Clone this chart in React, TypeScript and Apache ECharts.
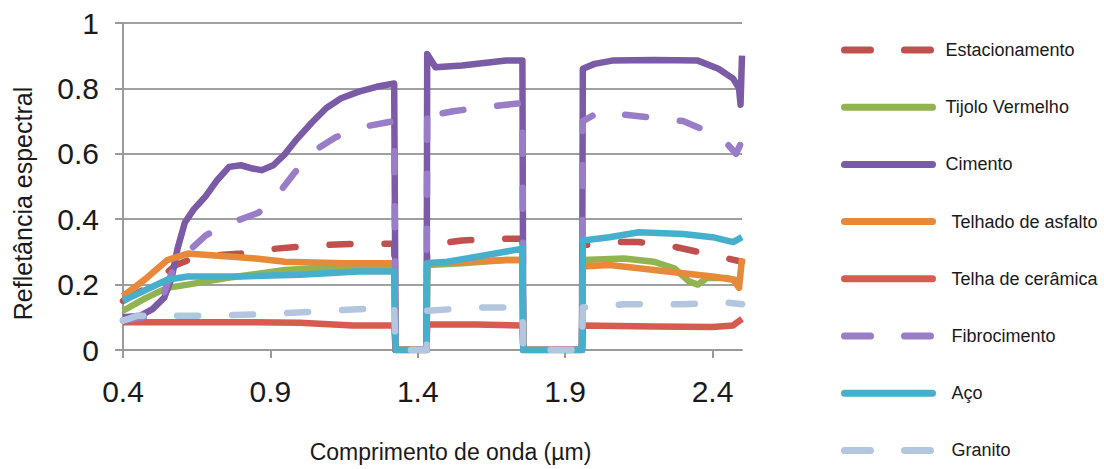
import React, { useEffect, useRef } from "react";
import * as echarts from "echarts";

const seriesNames = [
  "Estacionamento",
  "Tijolo Vermelho",
  "Cimento",
  "Telhado de asfalto",
  "Telha de cerâmica",
  "Fibrocimento",
  "Aço",
  "Granito",
];

const xTicks = [0.4, 0.9, 1.4, 1.9, 2.4];

const estacionamento = [
  [0.40, 0.15], [0.50, 0.20], [0.58, 0.26], [0.65, 0.285], [0.80, 0.295], [0.92, 0.31],
  [1.05, 0.32], [1.20, 0.325], [1.32, 0.325], [1.325, 0], [1.43, 0], [1.432, 0.32],
  [1.55, 0.335], [1.70, 0.34], [1.755, 0.34], [1.758, 0], [1.957, 0], [1.96, 0.32],
  [2.05, 0.33], [2.15, 0.33], [2.25, 0.32], [2.35, 0.30], [2.45, 0.28], [2.5, 0.27],
];

const tijolo = [
  [0.40, 0.12], [0.48, 0.16], [0.55, 0.19], [0.62, 0.20], [0.75, 0.22], [0.95, 0.245],
  [1.15, 0.255], [1.32, 0.255], [1.325, 0], [1.43, 0], [1.432, 0.26], [1.55, 0.265],
  [1.70, 0.275], [1.755, 0.275], [1.758, 0], [1.957, 0], [1.96, 0.275], [2.10, 0.28],
  [2.20, 0.27], [2.27, 0.25], [2.32, 0.21], [2.35, 0.20], [2.38, 0.22], [2.45, 0.22], [2.5, 0.21],
];

const cimento = [
  [0.40, 0.10], [0.46, 0.105], [0.50, 0.125], [0.54, 0.16], [0.565, 0.22], [0.585, 0.31],
  [0.61, 0.39], [0.64, 0.43], [0.68, 0.47], [0.72, 0.52], [0.76, 0.56], [0.80, 0.565],
  [0.84, 0.555], [0.87, 0.55], [0.91, 0.565], [0.95, 0.60], [0.99, 0.645], [1.04, 0.695],
  [1.09, 0.74], [1.14, 0.77], [1.20, 0.79], [1.26, 0.805], [1.32, 0.815], [1.325, 0],
  [1.43, 0], [1.432, 0.905], [1.46, 0.865], [1.55, 0.87], [1.70, 0.885], [1.755, 0.885],
  [1.758, 0], [1.957, 0], [1.96, 0.86], [2.0, 0.875], [2.06, 0.885], [2.2, 0.887],
  [2.35, 0.885], [2.42, 0.86], [2.47, 0.83], [2.49, 0.80], [2.495, 0.75], [2.5, 0.9],
];

const telhado = [
  [0.40, 0.165], [0.48, 0.22], [0.55, 0.275], [0.62, 0.295], [0.70, 0.29], [0.85, 0.28],
  [0.95, 0.27], [1.15, 0.265], [1.32, 0.265], [1.325, 0], [1.43, 0], [1.432, 0.265],
  [1.55, 0.27], [1.70, 0.275], [1.755, 0.275], [1.758, 0], [1.957, 0], [1.96, 0.255],
  [2.05, 0.26], [2.15, 0.25], [2.30, 0.235], [2.40, 0.225], [2.47, 0.215], [2.49, 0.19], [2.5, 0.28],
];

const telha = [
  [0.40, 0.085], [0.80, 0.085], [1.00, 0.083], [1.18, 0.075], [1.32, 0.075], [1.325, 0],
  [1.43, 0], [1.432, 0.078], [1.60, 0.078], [1.755, 0.075], [1.758, 0], [1.957, 0],
  [1.96, 0.075], [2.20, 0.072], [2.40, 0.07], [2.47, 0.075], [2.5, 0.095],
];

const fibrocimento = [
  [0.40, 0.09], [0.47, 0.10], [0.52, 0.13], [0.55, 0.20], [0.58, 0.27], [0.62, 0.30],
  [0.68, 0.35], [0.74, 0.38], [0.80, 0.40], [0.86, 0.42], [0.92, 0.47], [0.98, 0.54],
  [1.05, 0.61], [1.12, 0.65], [1.20, 0.68], [1.32, 0.70], [1.325, 0], [1.43, 0],
  [1.432, 0.75], [1.46, 0.72], [1.52, 0.73], [1.60, 0.74], [1.70, 0.75], [1.755, 0.755],
  [1.758, 0], [1.957, 0], [1.96, 0.70], [2.02, 0.73], [2.10, 0.72], [2.20, 0.71],
  [2.30, 0.70], [2.38, 0.67], [2.45, 0.63], [2.48, 0.60], [2.5, 0.64],
];

const aco = [
  [0.40, 0.15], [0.48, 0.185], [0.55, 0.215], [0.62, 0.225], [0.80, 0.225], [1.00, 0.23],
  [1.20, 0.24], [1.32, 0.24], [1.325, 0], [1.43, 0], [1.432, 0.265], [1.50, 0.27],
  [1.60, 0.285], [1.755, 0.31], [1.758, 0], [1.957, 0], [1.96, 0.335], [2.05, 0.345],
  [2.15, 0.36], [2.30, 0.355], [2.40, 0.345], [2.47, 0.33], [2.5, 0.345],
];

const granito = [
  [0.40, 0.09], [0.45, 0.105], [0.70, 0.105], [0.90, 0.11], [1.10, 0.12], [1.32, 0.13],
  [1.325, 0], [1.43, 0], [1.432, 0.12], [1.60, 0.13], [1.755, 0.13], [1.758, 0],
  [1.957, 0], [1.96, 0.13], [2.10, 0.14], [2.30, 0.14], [2.45, 0.145], [2.5, 0.14],
];

const seriesData = [estacionamento, tijolo, cimento, telhado, telha, fibrocimento, aco, granito];
const seriesColors = ["#c0504d", "#92b352", "#7b5ba6", "#e8893a", "#d85b4f", "#9a7dc7", "#46b0cc", "#b3c6e0"];
const seriesDashed = [true, false, false, false, false, true, false, true];
const legendTextShift = [0, 0, 0, 6, 6, 6, 6, 6];

const FONT = "'Liberation Sans', Arial, sans-serif";

export default function App() {
  const ref = useRef<HTMLDivElement>(null);

  useEffect(() => {
    if (!ref.current) return;
    const chart = echarts.init(ref.current, undefined, { renderer: "svg" });

    const series = seriesNames.map((name, i) => ({
      name,
      type: "line",
      data: seriesData[i],
      symbol: "none",
      showSymbol: false,
      smooth: false,
      z: 2 + i,
      lineStyle: {
        color: seriesColors[i],
        width: 6.5,
        type: seriesDashed[i] ? [21, 34] : "solid",
        cap: seriesDashed[i] ? "round" : "butt",
        join: "round",
      },
      itemStyle: { color: seriesColors[i] },
    }));

    chart.setOption({
      animation: false,
      backgroundColor: "#ffffff",
      textStyle: { fontFamily: FONT },
      grid: { left: 123, right: 362, top: 23, bottom: 119 },
      xAxis: {
        type: "value",
        min: 0.4,
        max: 2.5,
        name: "Comprimento de onda (µm)",
        nameLocation: "middle",
        nameGap: 90,
        nameTextStyle: { fontSize: 23, color: "#1a1a1a", fontFamily: FONT, padding: [0, 0, 0, 36] },
        axisLine: { show: true, onZero: false, lineStyle: { color: "#9a9a9a", width: 2 } },
        axisTick: { show: true, length: 8, customValues: xTicks, lineStyle: { color: "#9a9a9a", width: 2 } },
        axisLabel: {
          customValues: xTicks,
          fontSize: 30,
          color: "#1a1a1a",
          margin: 26,
          fontFamily: FONT,
        },
        splitLine: { show: false },
      },
      yAxis: {
        type: "value",
        min: 0,
        max: 1,
        interval: 0.2,
        name: "Refletância espectral",
        nameLocation: "middle",
        nameGap: 88,
        nameTextStyle: { fontSize: 25, color: "#1a1a1a", fontFamily: FONT, padding: [0, 34, 0, 0] },
        axisLine: { show: true, lineStyle: { color: "#9a9a9a", width: 2 } },
        axisTick: { show: true, length: 8, lineStyle: { color: "#9a9a9a", width: 2 } },
        axisLabel: { fontSize: 30, color: "#1a1a1a", margin: 24, fontFamily: FONT },
        splitLine: { show: true, lineStyle: { color: "#a0a0a0", width: 2 } },
      },
      legend: {
        orient: "vertical",
        left: 836,
        top: 36,
        height: 430,
        itemWidth: 88,
        itemHeight: 14,
        itemGap: 39.2,
        textStyle: { fontSize: 18, color: "#1a1a1a", fontFamily: FONT },
        itemStyle: { opacity: 0, borderWidth: 0 },
        lineStyle: { width: 7, cap: "round" },
        data: seriesNames.map((name, i) => ({
          name,
          itemStyle: { opacity: 0, borderWidth: 0 },
          lineStyle: {
            width: 7,
            cap: "round",
            type: seriesDashed[i] ? [26, 34] : "solid",
          },
          textStyle: { padding: [0, 0, 0, 8 + legendTextShift[i]] },
        })),
      },
      series,
    });

    return () => chart.dispose();
  }, []);

  return (
    <div
      ref={ref}
      style={{ position: "fixed", left: 0, top: 0, width: 1104, height: 469, background: "#fff" }}
    />
  );
}
